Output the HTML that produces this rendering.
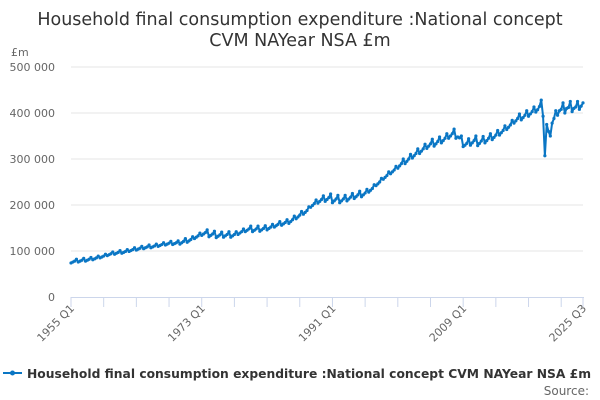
<!DOCTYPE html>
<html><head><meta charset="utf-8"><style>
body{margin:0;background:#fff;font-family:"DejaVu Sans","Liberation Sans",sans-serif}
svg{display:block}
svg text{font-family:"DejaVu Sans","Liberation Sans",sans-serif}
</style></head><body>
<svg id="chart" width="600" height="400">
<text x="300" y="25" text-anchor="middle" font-size="17.5" fill="#333">Household final consumption expenditure :National concept</text>
<text x="300" y="46" text-anchor="middle" font-size="17.5" fill="#333">CVM NAYear NSA £m</text>
<text x="11" y="56" font-size="11" fill="#666">£m</text>
<g id="grid"></g><g id="yt"></g><g id="xt"></g><g id="series"></g>
<g>
<line x1="3" y1="373" x2="22" y2="373" stroke="#0a76c4" stroke-width="2"/>
<circle cx="12.5" cy="373" r="2.5" fill="#0a76c4"/>
<text x="27" y="378" font-size="12.3" font-weight="bold" fill="#333">Household final consumption expenditure :National concept CVM NAYear NSA £m</text>
</g>
<text x="589" y="395" text-anchor="end" font-size="12" fill="#666">Source:</text>
</svg>
<script>
const startYear = 1955;
const yTicks = [0, 100000, 200000, 300000, 400000, 500000];
const yTickLabels = ["0", "100 000", "200 000", "300 000", "400 000", "500 000"];
const xLabelIdx = [0, 72, 144, 216, 282];
const xLabels = ["1955 Q1", "1973 Q1", "1991 Q1", "2009 Q1", "2025 Q3"];
const valuesK = [
74,76,78,82, 76,78,80,84, 78,80,82,86, 81,83,85,89, 85,87,89,93,
90,92,94,98, 93,95,97,101, 95,97,99,103, 99,101,103,107, 102,104,106,110,
105,107,109,113, 107,109,111,115, 110,112,114,118, 113,115,117,121, 114,116,118,122,
115,118,121,127, 119,122,125,131, 127,130,133,139, 134,137,140,146, 131,134,137,143,
129,132,135,141, 130,133,136,142, 130,133,136,142, 136,139,142,148, 142,145,148,154,
142,145,148,154, 143,146,149,155, 146,149,152,158, 152,155,158,164, 156,159,162,168,
160,164,168,176, 170,174,178,186, 180,184,188,196, 195,199,203,211, 204,208,212,220,
208,212,216,224, 205,209,213,221, 205,209,213,221, 209,213,217,225, 214,218,222,230,
218,222,226,234, 228,232,236,244, 242,246,250,258, 256,260,264,272, 268,272,276,284,
280,285,290,300, 290,295,300,310, 302,307,312,322, 312,317,322,332, 323,328,333,343,
328,333,338,348, 335,340,345,355, 345,350,355,365, 345,348,346,350, 327,330,334,344,
330,335,340,350, 329,334,339,349, 335,340,345,355, 342,347,352,362, 352,357,362,372,
364,369,374,384, 378,383,388,398, 385,390,395,405, 393,398,403,413, 402,407,414,428,
393,307,375,360, 350,378,388,405, 395,405,408,422, 400,410,412,425, 403,410,413,425,
408,415,422];
const values = valuesK.map(v => v * 1000);

const X0 = 71, X1 = 583, Y0 = 297, Y1 = 67, YMAX = 500000;
const N = values.length;
const xs = i => X0 + i * (X1 - X0) / (N - 1);
const ys = v => Y0 - v / YMAX * (Y0 - Y1);
const NS = "http://www.w3.org/2000/svg";
function mk(tag, attrs, parent) {
  const e = document.createElementNS(NS, tag);
  for (const k in attrs) e.setAttribute(k, attrs[k]);
  parent.appendChild(e);
  return e;
}
const grid = document.getElementById('grid'), yt = document.getElementById('yt'),
      xt = document.getElementById('xt'), ser = document.getElementById('series');
yTicks.forEach((t, k) => {
  if (t > 0) {
    const g = mk('line', {x1: X0, x2: X1, y1: ys(t), y2: ys(t), stroke: '#e6e6e6', 'stroke-width': 1}, grid);
    
    
  }
  const lb = mk('text', {x: 55, y: ys(t) + 4, 'text-anchor': 'end', 'font-size': 11, fill: '#666'}, yt);
  lb.textContent = yTickLabels[k];
  
  
});
const ax = mk('line', {x1: X0, x2: X1 + 1, y1: Y0 + 0.5, y2: Y0 + 0.5, stroke: '#ccd6eb', 'stroke-width': 1}, xt);


const tickIdx = [];
for (let i = 0; i < N; i += 18) tickIdx.push(i);
tickIdx.push(N - 1);
tickIdx.forEach(i => {
  const t = mk('line', {x1: xs(i), x2: xs(i), y1: Y0, y2: Y0 + 10, stroke: '#ccd6eb', 'stroke-width': 1}, xt);
  
  
});
xLabelIdx.forEach((i, k) => {
  const x = xs(i) + 4, y = Y0 + 12;
  const lb = mk('text', {x: x, y: y, 'text-anchor': 'end', 'font-size': 11, fill: '#666', transform: `rotate(-45 ${x} ${y})`}, xt);
  lb.textContent = xLabels[k];
  
  
});
const d = values.map((v, i) => (i ? 'L' : 'M') + xs(i).toFixed(2) + ' ' + ys(v).toFixed(2)).join(' ');
const path = mk('path', {d: d, fill: 'none', stroke: '#0a76c4', 'stroke-width': 2, 'stroke-linejoin': 'round'}, ser);


values.forEach((v, i) => {
  const c = mk('circle', {cx: xs(i), cy: ys(v), r: 1.6, fill: '#0a76c4'}, ser);
  
  
});
</script>
</body></html>
